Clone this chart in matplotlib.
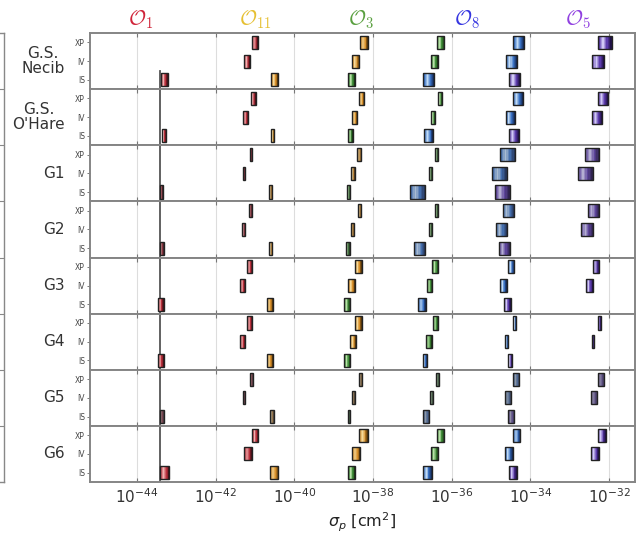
import numpy as np
import matplotlib
matplotlib.use('Agg')
import matplotlib.pyplot as plt
from matplotlib.colors import LinearSegmentedColormap, to_rgb

# panels, rows and operators
panels = ['G.S.\nNecib', "G.S.\nO'Hare", 'G1', 'G2', 'G3', 'G4', 'G5', 'G6']
rows = ['XP', 'IV', 'IS']
ops = [r'$\mathcal{O}_1$', r'$\mathcal{O}_{11}$', r'$\mathcal{O}_3$', r'$\mathcal{O}_8$', r'$\mathcal{O}_5$']

# log10(sigma_p / cm^2) ranges, one [lo, hi] per row (XP, IV, IS) per panel
o1 = [
    [[-41.08, -40.93], [-41.28, -41.13], [-43.40, -43.22]],
    [[-41.11, -40.99], [-41.30, -41.17], [-43.36, -43.27]],
    [[-41.14, -41.08], [-41.32, -41.25], [-43.42, -43.35]],
    [[-41.16, -41.08], [-41.34, -41.25], [-43.42, -43.33]],
    [[-41.20, -41.08], [-41.38, -41.25], [-43.47, -43.33]],
    [[-41.20, -41.08], [-41.38, -41.25], [-43.46, -43.33]],
    [[-41.13, -41.06], [-41.32, -41.25], [-43.42, -43.33]],
    [[-41.07, -40.92], [-41.28, -41.08], [-43.42, -43.18]],
]
o11 = [
    [[-38.33, -38.13], [-38.53, -38.35], [-40.59, -40.42]],
    [[-38.35, -38.23], [-38.53, -38.41], [-40.59, -40.51]],
    [[-38.40, -38.30], [-38.56, -38.47], [-40.64, -40.57]],
    [[-38.39, -38.30], [-38.57, -38.48], [-40.64, -40.56]],
    [[-38.46, -38.29], [-38.63, -38.46], [-40.70, -40.55]],
    [[-38.46, -38.29], [-38.58, -38.44], [-40.70, -40.55]],
    [[-38.35, -38.28], [-38.54, -38.47], [-40.62, -40.53]],
    [[-38.35, -38.13], [-38.53, -38.33], [-40.62, -40.41]],
]
o3 = [
    [[-36.38, -36.19], [-36.52, -36.35], [-38.63, -38.46]],
    [[-36.34, -36.25], [-36.52, -36.42], [-38.63, -38.52]],
    [[-36.42, -36.35], [-36.58, -36.50], [-38.67, -38.58]],
    [[-36.42, -36.35], [-36.58, -36.50], [-38.69, -38.60]],
    [[-36.49, -36.34], [-36.63, -36.49], [-38.74, -38.58]],
    [[-36.47, -36.34], [-36.65, -36.51], [-38.73, -38.58]],
    [[-36.40, -36.32], [-36.55, -36.48], [-38.65, -38.58]],
    [[-36.38, -36.19], [-36.52, -36.34], [-38.63, -38.46]],
]
o8 = [
    [[-34.43, -34.16], [-34.63, -34.33], [-36.72, -36.44]],
    [[-34.43, -34.20], [-34.63, -34.39], [-36.70, -36.47]],
    [[-34.77, -34.39], [-34.97, -34.60], [-37.06, -36.68]],
    [[-34.70, -34.41], [-34.88, -34.60], [-36.96, -36.68]],
    [[-34.57, -34.41], [-34.77, -34.60], [-36.85, -36.66]],
    [[-34.43, -34.36], [-34.64, -34.56], [-36.74, -36.63]],
    [[-34.43, -34.28], [-34.64, -34.50], [-36.72, -36.57]],
    [[-34.43, -34.26], [-34.64, -34.45], [-36.72, -36.51]],
]
o5 = [
    [[-32.27, -31.93], [-32.44, -32.12], [-34.54, -34.26]],
    [[-32.27, -32.02], [-32.44, -32.18], [-34.54, -34.28]],
    [[-32.61, -32.25], [-32.80, -32.41], [-34.90, -34.52]],
    [[-32.54, -32.25], [-32.71, -32.41], [-34.81, -34.52]],
    [[-32.41, -32.25], [-32.59, -32.41], [-34.67, -34.50]],
    [[-32.29, -32.20], [-32.44, -32.38], [-34.56, -34.47]],
    [[-32.29, -32.12], [-32.47, -32.30], [-34.56, -34.41]],
    [[-32.29, -32.08], [-32.47, -32.25], [-34.54, -34.35]],
]
op_data = [o1, o11, o3, o8, o5]

ref_line = -43.41  # vertical reference line

title_colors = ['#d0253a', '#e6c033', '#5aa040', '#3535e0', '#9040e0']
title_x = [141, 255, 361, 467, 578]
box_colors = [
    ['#b8303c', '#f0b0b0', '#b8303c', '#4a1018'],
    ['#d8902c', '#f5d898', '#d8902c', '#5a3808'],
    ['#43903c', '#b8e0a8', '#43903c', '#1a3a14'],
    ['#3a72c4', '#c0daf5', '#3a72c4', '#142a58'],
    ['#5c3cac', '#d0c8f5', '#5c3cac', '#201048'],
]
# how much each panel's boxes are washed toward gray
panel_mute = [0, 0, 0.25, 0.25, 0, 0, 0.55, 0]


def make_cmap(cols, mute):
    gray = np.array(to_rgb('#606068'))
    mixed = [tuple((1 - mute) * np.array(to_rgb(c)) + mute * gray) for c in cols]
    return LinearSegmentedColormap.from_list('box', mixed)


W, H = 639, 540
fig = plt.figure(figsize=(W / 100, H / 100), dpi=100)
left, right, top, bottom = 90 / W, 635 / W, 1 - 33 / H, 1 - 482 / H
axes = fig.subplots(len(panels), 1, sharex=True, gridspec_kw=dict(hspace=0))
fig.subplots_adjust(left=left, right=right, top=top, bottom=bottom)

n_slices = 10
box_h = 0.7
for p, ax in enumerate(axes):
    ax.set_xscale('log')
    ax.set_xlim(10 ** -45.2, 10 ** -31.34)
    ax.set_ylim(2.5, -0.5)
    ax.set_xticks([10.0 ** e for e in range(-44, -31, 2)])
    ax.xaxis.set_minor_locator(matplotlib.ticker.NullLocator())
    ax.grid(axis='x', color='#dddddd', lw=0.8, zorder=0)
    ax.set_axisbelow(True)
    ax.set_yticks(range(len(rows)))
    ax.set_yticklabels(rows, fontsize=5.5, color='#444444')
    ax.tick_params(axis='y', length=2, width=0.6, color='#666666', pad=1.5)
    ax.tick_params(axis='x', direction='in', length=3, width=0.8, color='#777777',
                   top=True, bottom=True, labelsize=11, labelcolor='#333333')
    for s in ax.spines.values():
        s.set_color('#858585')
        s.set_linewidth(1.4)
    if p < len(panels) - 1:
        ax.tick_params(axis='x', labelbottom=False)

    for o, data in enumerate(op_data):
        cmap = make_cmap(box_colors[o], panel_mute[p])
        for r in range(len(rows)):
            lo, hi = data[p][r]
            edges = np.linspace(lo, hi, n_slices + 1)
            for k in range(n_slices):
                a, b = 10 ** edges[k], 10 ** edges[k + 1]
                ax.barh(r, b - a, left=a, height=box_h, color=cmap(k / (n_slices - 1)),
                        linewidth=0, zorder=3)
            ax.barh(r, 10 ** hi - 10 ** lo, left=10 ** lo, height=box_h, fill=False,
                    edgecolor='#222222', linewidth=1.0, zorder=4)

    if p == 0:
        ax.axvline(10 ** ref_line, ymin=0, ymax=0.32, color='#555555', lw=1.3, zorder=2)
    else:
        ax.axvline(10 ** ref_line, color='#555555', lw=1.3, zorder=2)

    ax.text(-0.046, 0.5, panels[p], transform=ax.transAxes, ha='right', va='center',
            fontsize=11, color='#333333', multialignment='center', linespacing=1.0)

axes[-1].set_xlabel(r'$\sigma_p$ [cm$^2$]', fontsize=11.5, color='#222222', labelpad=4)

for o in range(len(ops)):
    fig.text(title_x[o] / W, 1 - 20 / H, ops[o], color=title_colors[o], fontsize=15,
             ha='center', va='center', math_fontfamily='cm')

# remnant of a neighbouring panel at the left edge
lax = fig.add_axes([-0.1, bottom, 0.1 + 4 / W, top - bottom])
lax.set_xticks([])
lax.set_ylim(0, 8)
lax.set_yticks(range(1, 8))
lax.set_yticklabels([])
lax.yaxis.tick_right()
lax.tick_params(axis='y', direction='in', length=4, color='#888888')
for s in lax.spines.values():
    s.set_color('#888888')
    s.set_linewidth(1.0)

fig.savefig('out.png', dpi=100)
